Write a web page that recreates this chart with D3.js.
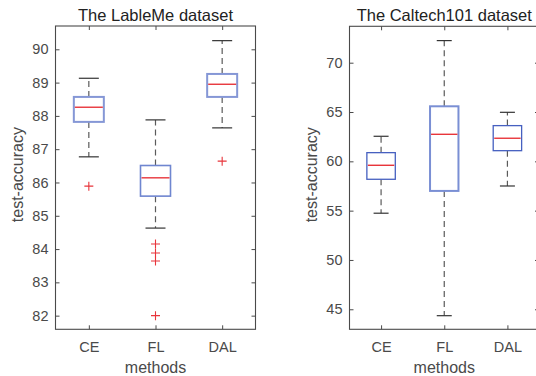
<!DOCTYPE html>
<html>
<head>
<meta charset="utf-8">
<script src="https://cdn.jsdelivr.net/npm/d3@7/dist/d3.min.js"></script>
<style>
  html, body { margin: 0; padding: 0; background: #fff; }
  svg { display: block; font-family: "Liberation Sans", Arial, Helvetica, sans-serif; }
</style>
</head>
<body>
<svg id="chart" width="536" height="376"></svg>
<script>
// ---------- data ----------
const methods = ["CE", "FL", "DAL"];

// The LableMe dataset
const lablemeWhiskerLow  = [86.77, 84.63, 87.64];
const lablemeQ1          = [87.82, 85.59, 88.57];
const lablemeMedian      = [88.26, 86.14, 88.95];
const lablemeQ3          = [88.57, 86.51, 89.26];
const lablemeWhiskerHigh = [89.13, 87.88, 90.26];
const lablemeOutliers    = [[85.89], [84.15, 83.88, 83.64, 82.0], [86.64]];
const lablemeTicks       = [82, 83, 84, 85, 86, 87, 88, 89, 90];

// The Caltech101 dataset
const caltechWhiskerLow  = [54.74, 44.35, 57.5];
const caltechQ1          = [58.18, 57.0, 61.08];
const caltechMedian      = [59.6, 62.74, 62.34];
const caltechQ3          = [60.88, 65.58, 63.62];
const caltechWhiskerHigh = [62.54, 72.24, 64.97];
const caltechOutliers    = [[], [], []];
const caltechTicks       = [45, 50, 55, 60, 65, 70];

// ---------- drawing ----------
const svg = d3.select("#chart");
const textColor = "#4a4a4a";
const axisColor = "#4a4a4a";

function panel(opts) {
  const { left, right, top, bottom, domain, ticks, title, low, q1, med, q3, high, outliers, capW, boxStroke, boxStrokeW } = opts;
  const g = svg.append("g");
  const x = d3.scalePoint().domain(methods).range([left, right]).padding(0.5);
  const y = d3.scaleLinear().domain(domain).range([bottom, top]);
  const step = x.step();
  const boxW = step * 0.45;

  // axes
  const yl = g.append("g").attr("transform", `translate(${left},0)`)
    .call(d3.axisLeft(y).tickValues(ticks).tickSize(-4).tickSizeOuter(0).tickPadding(7).tickFormat(d3.format("d")));
  const yr = g.append("g").attr("transform", `translate(${right},0)`)
    .call(d3.axisRight(y).tickValues(ticks).tickSize(-4).tickSizeOuter(0).tickFormat(""));
  const xb = g.append("g").attr("transform", `translate(0,${bottom})`)
    .call(d3.axisBottom(x).tickSize(-4).tickSizeOuter(0).tickPadding(12));
  const xt = g.append("g").attr("transform", `translate(0,${top})`)
    .call(d3.axisTop(x).tickSize(-4).tickSizeOuter(0).tickFormat(""));
  [yl, yr, xb, xt].forEach(a => {
    a.select(".domain").remove();
    a.selectAll("line").attr("stroke", axisColor);
    a.selectAll("text").attr("fill", textColor).style("font-size", "14.5px")
      .style("font-family", '"Liberation Sans", Arial, Helvetica, sans-serif');
  });
  g.append("rect").attr("x", left).attr("y", top)
    .attr("width", right - left).attr("height", bottom - top)
    .attr("fill", "none").attr("stroke", axisColor).attr("stroke-width", 1.1);

  const idx = d3.range(methods.length);
  // whiskers (dashed)
  g.selectAll(".wup").data(idx).join("line")
    .attr("x1", i => x(methods[i])).attr("x2", i => x(methods[i]))
    .attr("y1", i => y(q3[i])).attr("y2", i => y(high[i]))
    .attr("stroke", "#5a5a5a").attr("stroke-width", 1.2).attr("stroke-dasharray", "6,4");
  g.selectAll(".wlo").data(idx).join("line")
    .attr("x1", i => x(methods[i])).attr("x2", i => x(methods[i]))
    .attr("y1", i => y(q1[i])).attr("y2", i => y(low[i]))
    .attr("stroke", "#5a5a5a").attr("stroke-width", 1.2).attr("stroke-dasharray", "6,4");
  // caps
  [high, low].forEach(arr => {
    g.selectAll(null).data(idx).join("line")
      .attr("x1", i => x(methods[i]) - capW / 2).attr("x2", i => x(methods[i]) + capW / 2)
      .attr("y1", i => y(arr[i])).attr("y2", i => y(arr[i]))
      .attr("stroke", "#333").attr("stroke-width", 1.2);
  });
  // boxes
  g.selectAll(".box").data(idx).join("rect")
    .attr("x", i => x(methods[i]) - boxW / 2).attr("width", boxW)
    .attr("y", i => y(q3[i])).attr("height", i => y(q1[i]) - y(q3[i]))
    .attr("fill", "white").attr("stroke", i => boxStroke[i]).attr("stroke-width", i => boxStrokeW[i]);
  // medians
  g.selectAll(".med").data(idx).join("line")
    .attr("x1", i => x(methods[i]) - boxW / 2 + 1).attr("x2", i => x(methods[i]) + boxW / 2 - 1)
    .attr("y1", i => y(med[i])).attr("y2", i => y(med[i]))
    .attr("stroke", "#e8353b").attr("stroke-width", 1.4);
  // outliers
  const pts = [];
  outliers.forEach((arr, i) => arr.forEach(v => pts.push({ m: methods[i], v })));
  const s = 4.5;
  g.selectAll(".out").data(pts).join("path")
    .attr("d", d => `M${x(d.m) - s},${y(d.v)}H${x(d.m) + s}M${x(d.m)},${y(d.v) - s}V${y(d.v) + s}`)
    .attr("stroke", "#e8353b").attr("stroke-width", 1.1).attr("fill", "none");

  // labels
  g.append("text").attr("x", (left + right) / 2).attr("y", 20.5).attr("text-anchor", "middle")
    .attr("fill", "#222").style("font-size", "16.5px").text(title);
  g.append("text").attr("x", (left + right) / 2).attr("y", 373).attr("text-anchor", "middle")
    .attr("fill", textColor).style("font-size", "16px").text("methods");
  g.append("text").attr("transform", `translate(${opts.ylabX},${(top + bottom) / 2 - 3}) rotate(-90)`)
    .attr("text-anchor", "middle").attr("fill", textColor).style("font-size", "16px").text("test-accuracy");
}

panel({
  left: 55.5, right: 255.5, top: 26, bottom: 329.3,
  domain: [81.59, 90.7], ticks: lablemeTicks, title: "The LableMe dataset",
  low: lablemeWhiskerLow, q1: lablemeQ1, med: lablemeMedian, q3: lablemeQ3, high: lablemeWhiskerHigh,
  outliers: lablemeOutliers, capW: 20, ylabX: 23,
  boxStroke: ["#8597d6", "#6f86d0", "#8597d6"], boxStrokeW: [2, 1.6, 2]
});

panel({
  left: 349.5, right: 539, top: 26.3, bottom: 329.3,
  domain: [42.97, 73.69], ticks: caltechTicks, title: "The Caltech101 dataset",
  low: caltechWhiskerLow, q1: caltechQ1, med: caltechMedian, q3: caltechQ3, high: caltechWhiskerHigh,
  outliers: caltechOutliers, capW: 15, ylabX: 317,
  boxStroke: ["#4660c0", "#7a8fd4", "#4660c0"], boxStrokeW: [1.3, 2, 1.3]
});
</script>
</body>
</html>
